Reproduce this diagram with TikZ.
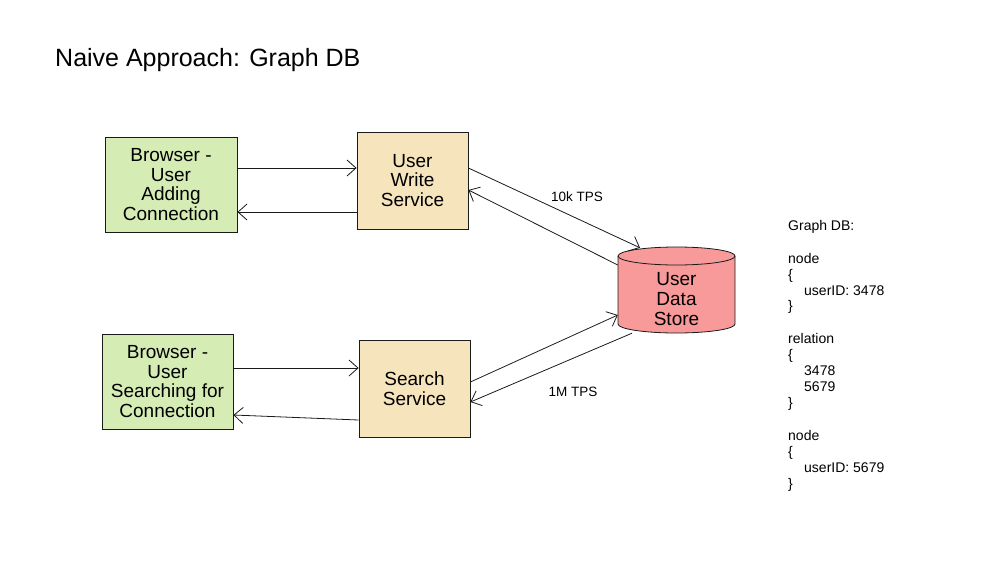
\documentclass[tikz,border=0pt]{standalone}
\usepackage{fontspec}
\setmainfont{Liberation Sans}
\usetikzlibrary{arrows.meta, calc}
\definecolor{edgeDark}{HTML}{1a1a1a}
\definecolor{clientFill}{HTML}{D6ECB5}
\definecolor{serviceFill}{HTML}{F5E4BC}
\definecolor{storeFill}{HTML}{F89A9A}
\def\storeRx{58.5pt}
\def\storeRy{9pt}

\begin{document}
\begin{tikzpicture}[
    x=1pt, y=-1pt,
    every node/.style={font=\fontsize{19}{19.7}\selectfont},
    client/.style={draw=edgeDark, line width=0.8pt, fill=clientFill,
                   align=center, inner sep=1pt},
    service/.style={draw=edgeDark, line width=0.8pt, fill=serviceFill,
                    align=center, inner sep=1pt,
                    minimum width=111pt, minimum height=97pt},
    flow/.style={-{Straight Barb[length=9pt,width=16pt]}, line width=0.8pt,
                 draw=edgeDark},
    rate/.style={font=\fontsize{13.5}{15}\selectfont},
    ]
\useasboundingbox (0,0) rectangle (981,586);

% ====================================================================
% Title
% ====================================================================
\node[anchor=west, inner sep=0pt, font=\fontsize{25}{28}\selectfont] (title)
  at (55,60) {Naive Approach: Graph DB};

% ====================================================================
% Clients and services
% ====================================================================
\node[client, minimum width=132pt, minimum height=95pt] (bac)
  at (171,184.5) {Browser -\\User\\Adding\\Connection};
\node[service] (uws) at (412.5,180.5) {User\\Write\\Service};

\node[client, minimum width=131pt, minimum height=95pt] (bsc)
  at (167.5,381.5) {Browser -\\User\\Searching for\\Connection};
\node[service] (ssv) at (414.5,388.5) {Search\\Service};

% ====================================================================
% Data store (cylinder drawn by hand round a named node)
% ====================================================================
\node[minimum width=117pt, minimum height=86pt, inner sep=0pt] (uds)
  at (676.5,290) {};
\filldraw[draw=edgeDark, line width=0.8pt, fill=storeFill]
  (618,256) -- (618,324)
  arc[start angle=180, end angle=360, x radius=\storeRx, y radius=\storeRy]
  -- (735,256)
  arc[start angle=0, end angle=180, x radius=\storeRx, y radius=\storeRy]
  -- cycle;
\draw[edgeDark, line width=0.8pt] (618,256)
  arc[start angle=180, end angle=360, x radius=\storeRx, y radius=\storeRy];
\node[align=center] (udsText) at (676.5,299) {User\\Data\\Store};

% ====================================================================
% Connectors
% ====================================================================
\draw[flow] ([yshift=16.5pt]bac.east) -- ([yshift=12.5pt]uws.west);
\draw[flow] ([yshift=-31.5pt]uws.west) -- ([yshift=-27.5pt]bac.east);
\draw[flow] ([yshift=13.5pt]bsc.east) -- ([yshift=20.5pt]ssv.west);
\draw[flow] ([yshift=-31.5pt]ssv.west) -- ([yshift=-33.5pt]bsc.east);

\draw[flow] ([yshift=12.5pt]uws.east) -- ([xshift=-36.5pt,yshift=-1pt]uds.north);
\draw[flow] ([yshift=25pt]uds.west) -- ([yshift=-9.5pt]uws.east);
\draw[flow] ([yshift=6.5pt]ssv.east) -- ([yshift=-25pt]uds.west);
\draw[flow] ([xshift=-44.5pt]uds.south) -- ([yshift=-13.5pt]ssv.east);

\node[rate] (wrRate) at (577,197) {10k TPS};
\node[rate] (rdRate) at (573,392) {1M TPS};

% ====================================================================
% Graph DB notes
% ====================================================================
\node[anchor=north west, align=left, inner sep=0pt,
      font=\fontsize{14}{15.9}\selectfont] (notes) at (788,220.5)
  {Graph DB:\\[16.5pt]
   node\\
   \{\\
   \hspace*{16pt}userID: 3478\\
   \}\\[17pt]
   relation\\
   \{\\
   \hspace*{16pt}3478\\
   \hspace*{16pt}5679\\
   \}\\[17pt]
   node\\
   \{\\
   \hspace*{16pt}userID: 5679\\
   \}};

\end{tikzpicture}
\end{document}
